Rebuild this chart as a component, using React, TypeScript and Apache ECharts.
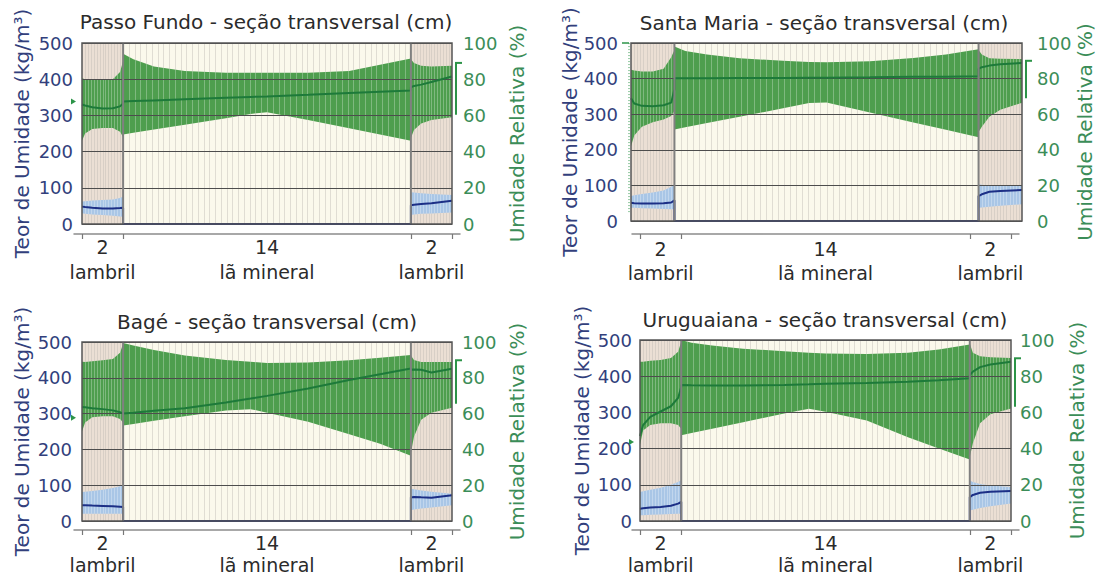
import React, { useEffect, useRef } from "react";
import * as echarts from "echarts";

// ---------- structure ----------
const layerNames = ["lambril", "lã mineral", "lambril"];
const layerThickness = [2, 14, 2];
const meshCells = [14, 50, 14];
const moistureAxis = { min: 0, max: 500, step: 100 };
const rhAxis = { min: 0, max: 100, step: 20 };
const moistureName = "Teor de Umidade (kg/m³)";
const rhName = "Umidade Relativa (%)";

// sample positions across the wall (cm): left lambril | mineral wool | right lambril
const xPos = [0, 0.15, 0.5, 1, 1.5, 1.85, 2, 2, 2.5, 3.5, 5, 7, 8.2, 9, 11, 13, 14.5, 16, 16, 16.15, 16.5, 17, 18];

// ---------- Passo Fundo ----------
const pfTitle = "Passo Fundo - seção transversal (cm)";
const pfRhMax = [80.5, 80, 79.5, 79.5, 80, 84, 90, 94, 91, 87, 84.5, 83.5, 83.5, 83.5, 83.5, 84.5, 88, 91.5, 91, 89, 87.5, 87, 87.5];
const pfRhMin = [46, 50, 52.5, 53, 53, 51, 48, 49.5, 50.4, 52.2, 54.9, 58.4, 60.8, 61.8, 57.4, 52.9, 49.4, 46, 47.5, 52, 55.5, 57.5, 59];
const pfRhMean = [66, 65.5, 64.5, 63.8, 64, 65, 66.5, 67.7, 67.9, 68.3, 68.9, 69.7, 70.2, 70.5, 71.4, 72.4, 73.1, 73.8, 75.5, 76.3, 77, 78.5, 81.5];
const pfMcMean = [48, 47, 45, 43, 43, 44, 45, 0, 0, 0, 0, 0, 0, 0, 0, 0, 0, 0, 52, 53, 55, 57, 64];
const pfMcMax = [62, 63, 65, 66, 68, 72, 76, 0, 0, 0, 0, 0, 0, 0, 0, 0, 0, 0, 88, 87, 85, 83, 80];
const pfMcMin = [30, 28, 26, 25, 23, 21, 20, 0, 0, 0, 0, 0, 0, 0, 0, 0, 0, 0, 25, 26, 28, 29, 32];
const pfExtRh = [67.7];
const pfIntRh = [60.3, 89];

// ---------- Santa Maria ----------
const smTitle = "Santa Maria - seção transversal (cm)";
const smRhMax = [85, 84.5, 84, 84, 85.5, 92, 96, 98, 95.5, 93.5, 91.5, 90, 89.3, 89.2, 89.8, 91.6, 93.5, 96.5, 96, 93.5, 91.5, 91.2, 91];
const smRhMin = [42, 48, 53, 55.5, 57, 59, 62, 51.4, 52.6, 55, 58.5, 63.3, 66.3, 66.6, 61, 55.4, 51.3, 47.1, 50, 53, 58.5, 62.5, 66.4];
const smRhMean = [69, 66, 64.7, 64.5, 65, 66.5, 74, 80.2, 80.2, 80.2, 80.3, 80.4, 80.5, 80.5, 80.7, 81, 81.1, 81.3, 85.5, 86.4, 87.3, 88, 88.8];
const smMcMean = [51, 50, 49.5, 49.5, 50, 52, 58, 0, 0, 0, 0, 0, 0, 0, 0, 0, 0, 0, 70, 75, 82, 84, 87];
const smMcMax = [70, 72, 76, 80, 86, 96, 103, 0, 0, 0, 0, 0, 0, 0, 0, 0, 0, 0, 103, 102, 100, 99, 98];
const smMcMin = [37, 37, 36, 35, 34, 33, 33, 0, 0, 0, 0, 0, 0, 0, 0, 0, 0, 0, 37, 38, 40, 43, 47];
const smExtRh = [5, 100];
const smIntRh = [69, 90];

// ---------- Bagé ----------
const bgTitle = "Bagé - seção transversal (cm)";
const bgRhMax = [89, 88.8, 89.3, 89.8, 90.5, 94, 99, 99.5, 98, 95.5, 92.5, 90, 88.9, 88.3, 88.5, 89.8, 91.2, 92.8, 92.5, 90, 88.8, 88.8, 88.8];
const bgRhMin = [50, 55, 58, 58.5, 58.5, 57, 55, 53.4, 54.2, 56, 58.5, 61.8, 62.5, 60.5, 55.5, 48.5, 43.2, 36.5, 38, 47, 56.5, 60.5, 63.3];
const bgRhMean = [63.7, 63.5, 63, 62.5, 61.8, 60.8, 60, 60, 60.5, 61.6, 63, 66.2, 68.4, 69.9, 74, 78.8, 82, 85.2, 84.5, 84.6, 84.5, 83, 85];
const bgMcMean = [44, 44, 43, 42, 41, 40, 39, 0, 0, 0, 0, 0, 0, 0, 0, 0, 0, 0, 66, 67, 66, 65, 72];
const bgMcMax = [81, 82, 84, 87, 92, 97, 100, 0, 0, 0, 0, 0, 0, 0, 0, 0, 0, 0, 90, 89, 85, 82, 76];
const bgMcMin = [20, 20, 20, 20, 20, 20, 20, 0, 0, 0, 0, 0, 0, 0, 0, 0, 0, 0, 30, 32, 35, 38, 44];
const bgExtRh = [57.7];
const bgIntRh = [65.5, 89.8];

// ---------- Uruguaiana ----------
const urTitle = "Uruguaiana - seção transversal (cm)";
const urRhMax = [88, 88, 88.5, 89, 90, 93.5, 99, 100, 98.5, 97, 95.2, 93.8, 93, 92.6, 92.3, 93, 94.8, 97.5, 98, 93, 91, 90.5, 90];
const urRhMin = [42, 50, 53, 54, 54, 53, 51, 47.4, 48.6, 51, 54.6, 59.4, 62, 60.3, 55.5, 46.3, 40, 34, 35.4, 43, 54, 59, 62.2];
const urRhMean = [47, 53, 57.5, 60.5, 63.4, 68, 74, 75.1, 75, 74.9, 74.8, 75.2, 75.5, 75.8, 76.3, 77, 77.8, 78.8, 80.6, 82.5, 85, 86.5, 88];
const urMcMean = [34, 35, 37, 39, 42, 48, 53, 0, 0, 0, 0, 0, 0, 0, 0, 0, 0, 0, 66, 72, 78, 81, 83];
const urMcMax = [80, 82, 86, 92, 100, 108, 113, 0, 0, 0, 0, 0, 0, 0, 0, 0, 0, 0, 112, 108, 102, 98, 94];
const urMcMin = [16, 16, 17, 18, 19, 20, 20, 0, 0, 0, 0, 0, 0, 0, 0, 0, 0, 0, 29, 31, 36, 41, 48];
const urExtRh = [43.7];
const urIntRh = [63.1, 89.9];

const panels = [
  { title: pfTitle, rhMax: pfRhMax, rhMin: pfRhMin, rhMean: pfRhMean, mcMean: pfMcMean, mcMax: pfMcMax, mcMin: pfMcMin, ext: pfExtRh, int: pfIntRh },
  { title: smTitle, rhMax: smRhMax, rhMin: smRhMin, rhMean: smRhMean, mcMean: smMcMean, mcMax: smMcMax, mcMin: smMcMin, ext: smExtRh, int: smIntRh },
  { title: bgTitle, rhMax: bgRhMax, rhMin: bgRhMin, rhMean: bgRhMean, mcMean: bgMcMean, mcMax: bgMcMax, mcMin: bgMcMin, ext: bgExtRh, int: bgIntRh },
  { title: urTitle, rhMax: urRhMax, rhMin: urRhMin, rhMean: urRhMean, mcMean: urMcMean, mcMax: urMcMax, mcMin: urMcMin, ext: urExtRh, int: urIntRh },
];

// ---------- layout (pixels) ----------
const layouts = [
  { left: 82, top: 43, width: 370, height: 181, axX: 82, axSpan: 370, axY: 234, tX: 266, tY: 22, lblL: 9, lblR: 11, gapL: 50, gapR: 55, xMargin: 0, xLine: 25 },
  { left: 631, top: 43, width: 391, height: 178, axX: 640, axSpan: 371, axY: 234, tX: 824, tY: 23, lblL: 13, lblR: 15, gapL: 46, gapR: 47, xMargin: 3, xLine: 24 },
  { left: 82, top: 342, width: 370, height: 179, axX: 82, axSpan: 370, axY: 530, tX: 267, tY: 322, lblL: 10, lblR: 10, gapL: 50, gapR: 55, xMargin: 2, xLine: 22 },
  { left: 640, top: 340, width: 371, height: 181, axX: 640, axSpan: 371, axY: 530, tX: 825, tY: 320, lblL: 8, lblR: 9, gapL: 48, gapR: 56, xMargin: 2, xLine: 22 },
];

const FONT = "DejaVu Sans";
const C = {
  tan: "#ebdfd4",
  cream: "#fbf9ec",
  mesh: "rgba(125,112,95,0.30)",
  meshLight: "rgba(255,255,255,0.28)",
  green: "#4e9e4e",
  greenLine: "#1d7a3a",
  marker: "#2c9448",
  blue: "#a9c6e6",
  navy: "#1c2f86",
  grid: "#4d4d4d",
  border: "#555555",
  boundary: "#808080",
  navyText: "#323f7c",
  greenText: "#3b8d58",
  text: "#2b2b2b",
};

const layerBounds = layerThickness.reduce((acc, t) => { acc.push(acc[acc.length - 1] + t); return acc; }, [0] as number[]);
const total = layerBounds[layerBounds.length - 1];
const labelCenters = layerThickness.map((t, k) => layerBounds[k] + t / 2);

function buildOption() {
  const grids: any[] = [];
  const xAxes: any[] = [];
  const yAxes: any[] = [];
  const series: any[] = [];
  const graphics: any[] = [];

  layouts.forEach((L) => {
    grids.push({ left: L.left, top: L.top, width: L.width, height: L.height, show: true, backgroundColor: "transparent", borderColor: C.border, borderWidth: 1.5, z: 10 });
  });
  layouts.forEach((L) => {
    grids.push({ left: L.axX - 8, top: L.axY - 1, width: L.axSpan + 16, height: 1, show: false });
  });

  layouts.forEach((L, i) => {
    xAxes.push({ gridIndex: i, type: "value", min: 0, max: total, show: false });
  });
  layouts.forEach((L, i) => {
    const ext = 8 / (L.axSpan / total);
    xAxes.push({
      gridIndex: 4 + i,
      type: "value",
      min: -ext,
      max: total + ext,
      position: "bottom",
      axisLine: { show: true, lineStyle: { color: "#8c8c8c", width: 1.5 } },
      axisTick: { show: true, customValues: layerBounds, length: 5, lineStyle: { color: "#777", width: 1.2 } },
      axisLabel: {
        show: true,
        customValues: labelCenters,
        margin: L.xMargin,
        color: C.text,
        fontSize: 19,
        lineHeight: L.xLine,
        fontFamily: FONT,
        formatter: (v: number) => {
          const k = labelCenters.findIndex((c) => Math.abs(c - v) < 1e-6);
          return k >= 0 ? `${layerThickness[k]}\n${layerNames[k]}` : "";
        },
      },
      splitLine: { show: false },
    });
  });

  layouts.forEach((L, i) => {
    yAxes.push({
      gridIndex: i,
      type: "value",
      position: "left",
      min: moistureAxis.min,
      max: moistureAxis.max,
      interval: moistureAxis.step,
      z: 4,
      axisLine: { show: false },
      axisTick: { show: false },
      axisLabel: { color: C.navyText, fontSize: 18, margin: L.lblL, fontFamily: FONT },
      splitLine: { show: true, lineStyle: { color: C.grid, width: 1 } },
      name: moistureName,
      nameLocation: "middle",
      nameGap: L.gapL,
      nameTextStyle: { color: C.navyText, fontSize: 20, fontFamily: FONT },
    });
    yAxes.push({
      gridIndex: i,
      type: "value",
      position: "right",
      min: rhAxis.min,
      max: rhAxis.max,
      interval: rhAxis.step,
      axisLine: { show: false },
      axisTick: { show: false },
      axisLabel: { color: C.greenText, fontSize: 18, margin: L.lblR, fontFamily: FONT },
      splitLine: { show: false },
      name: rhName,
      nameLocation: "middle",
      nameGap: L.gapR,
      nameTextStyle: { color: C.greenText, fontSize: 20, fontFamily: FONT },
    });
  });
  layouts.forEach((L, i) => {
    yAxes.push({ gridIndex: 4 + i, type: "value", min: 0, max: 1, show: false });
  });

  panels.forEach((P, i) => {
    const L = layouts[i];
    const yl = 2 * i;
    const yr = 2 * i + 1;

    graphics.push({
      type: "text",
      x: L.tX,
      y: L.tY,
      silent: true,
      style: { text: P.title, align: "center", verticalAlign: "middle", fill: C.text, font: `20px '${FONT}'` },
    });

    series.push({
      type: "custom",
      xAxisIndex: i,
      yAxisIndex: yl,
      z: 1,
      silent: true,
      data: layerThickness.map((_, k) => [k, 0]),
      renderItem: (_p: any, api: any) => {
        const k = api.value(0);
        const x0 = layerBounds[k];
        const x1 = layerBounds[k + 1];
        const a = api.coord([x0, moistureAxis.max]);
        const b = api.coord([x1, moistureAxis.min]);
        const children: any[] = [
          { type: "rect", shape: { x: a[0], y: a[1], width: b[0] - a[0], height: b[1] - a[1] }, style: { fill: layerNames[k] === "lambril" ? C.tan : C.cream } },
        ];
        for (let j = 1; j < meshCells[k]; j++) {
          const px = Math.round(api.coord([x0 + ((x1 - x0) * j) / meshCells[k], 0])[0]) + 0.5;
          children.push({ type: "line", shape: { x1: px, y1: a[1], x2: px, y2: b[1] }, style: { stroke: C.mesh, lineWidth: 1 } });
        }
        return { type: "group", children };
      },
    });

    series.push({
      type: "custom",
      xAxisIndex: i,
      yAxisIndex: yr,
      z: 2,
      silent: true,
      data: [[0, 0]],
      renderItem: (_p: any, api: any) => {
        const top = xPos.map((x, j) => api.coord([x, P.rhMax[j]]));
        const bot = xPos.map((x, j) => api.coord([x, P.rhMin[j]])).reverse();
        return { type: "polygon", shape: { points: top.concat(bot) }, style: { fill: C.green } };
      },
    });

    series.push({
      type: "custom",
      xAxisIndex: i,
      yAxisIndex: yl,
      z: 2,
      silent: true,
      data: [[0, 0]],
      renderItem: (_p: any, api: any) => {
        const top = xPos.map((x, j) => api.coord([x, P.mcMax[j]]));
        const bot = xPos.map((x, j) => api.coord([x, P.mcMin[j]])).reverse();
        return { type: "polygon", shape: { points: top.concat(bot) }, style: { fill: C.blue } };
      },
    });

    series.push({
      type: "custom",
      xAxisIndex: i,
      yAxisIndex: yl,
      z: 3,
      silent: true,
      data: layerThickness.map((_, k) => [k, 0]),
      renderItem: (_p: any, api: any) => {
        const k = api.value(0);
        const x0 = layerBounds[k];
        const x1 = layerBounds[k + 1];
        const yTop = api.coord([0, moistureAxis.max])[1];
        const yBot = api.coord([0, moistureAxis.min])[1];
        const children: any[] = [];
        for (let j = 1; j < meshCells[k]; j++) {
          const px = Math.round(api.coord([x0 + ((x1 - x0) * j) / meshCells[k], 0])[0]) + 0.5;
          children.push({ type: "line", shape: { x1: px, y1: yTop, x2: px, y2: yBot }, style: { stroke: C.meshLight, lineWidth: 1 } });
        }
        return { type: "group", children };
      },
    });

    series.push({
      type: "line",
      xAxisIndex: i,
      yAxisIndex: yr,
      z: 5,
      silent: true,
      symbol: "none",
      data: xPos.map((x, j) => [x, P.rhMean[j]]),
      lineStyle: { color: C.greenLine, width: 2 },
    });

    series.push({
      type: "line",
      xAxisIndex: i,
      yAxisIndex: yl,
      z: 5,
      silent: true,
      symbol: "none",
      data: xPos.map((x, j) => [x, P.mcMean[j]]),
      lineStyle: { color: C.navy, width: 2 },
    });

    series.push({
      type: "custom",
      xAxisIndex: i,
      yAxisIndex: yl,
      z: 6,
      silent: true,
      data: layerBounds.slice(1, -1).map((b) => [b, 0]),
      renderItem: (_p: any, api: any) => {
        const a = api.coord([api.value(0), moistureAxis.max]);
        const b = api.coord([api.value(0), moistureAxis.min]);
        return { type: "line", shape: { x1: a[0], y1: a[1], x2: b[0], y2: b[1] }, style: { stroke: C.boundary, lineWidth: 2 } };
      },
    });

    series.push({
      type: "custom",
      xAxisIndex: i,
      yAxisIndex: yr,
      z: 6,
      silent: true,
      clip: false,
      data: [[0, 0]],
      renderItem: (_p: any, api: any) => {
        const lx = api.coord([0, 0])[0];
        const rx = api.coord([total, 0])[0];
        const children: any[] = [];
        if (P.ext.length === 1) {
          const y = api.coord([0, P.ext[0]])[1];
          children.push({ type: "polygon", shape: { points: [[lx - 11, y - 3], [lx - 6, y], [lx - 11, y + 3]] }, style: { fill: C.marker } });
        } else {
          const y0 = api.coord([0, P.ext[0]])[1];
          const y1 = api.coord([0, P.ext[1]])[1];
          children.push({ type: "line", shape: { x1: lx - 2, y1: y0, x2: lx - 2, y2: y1 }, style: { stroke: C.marker, lineWidth: 1, lineDash: [1, 2] } });
          children.push({ type: "line", shape: { x1: lx - 9, y1: y1, x2: lx - 2, y2: y1 }, style: { stroke: C.marker, lineWidth: 1.5 } });
        }
        const ya = api.coord([0, P.int[0]])[1];
        const yb = api.coord([0, P.int[1]])[1];
        children.push({ type: "line", shape: { x1: rx + 4, y1: ya, x2: rx + 4, y2: yb }, style: { stroke: C.marker, lineWidth: 2 } });
        children.push({ type: "line", shape: { x1: rx + 3, y1: yb, x2: rx + 10, y2: yb }, style: { stroke: C.marker, lineWidth: 2 } });
        return { type: "group", children };
      },
    });
  });

  return {
    animation: false,
    backgroundColor: "#ffffff",
    textStyle: { fontFamily: FONT },
    grid: grids,
    xAxis: xAxes,
    yAxis: yAxes,
    series,
    graphic: graphics,
  };
}

export default function App() {
  const ref = useRef<HTMLDivElement>(null);
  useEffect(() => {
    document.body.style.margin = "0";
    const chart = echarts.init(ref.current as HTMLDivElement, null, { renderer: "svg" });
    chart.setOption(buildOption() as any);
    return () => chart.dispose();
  }, []);
  return <div ref={ref} style={{ width: 1102, height: 580, background: "#fff" }} />;
}
